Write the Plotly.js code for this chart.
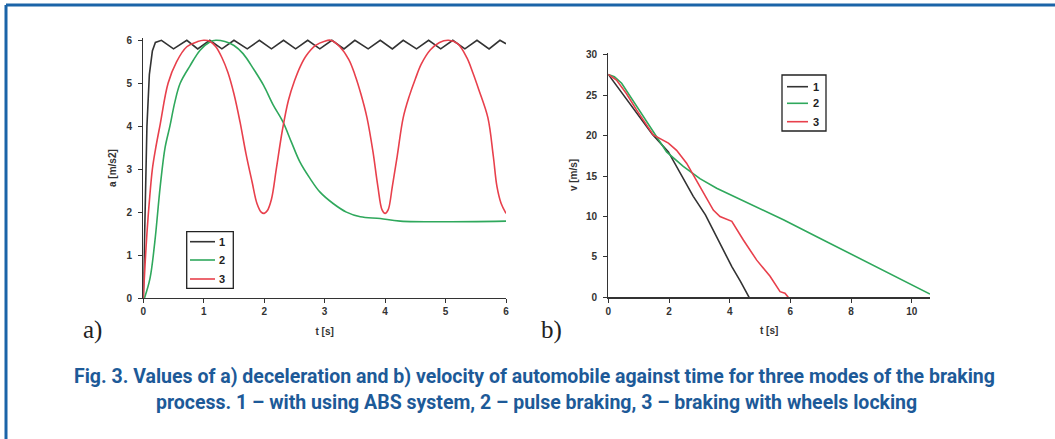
<!DOCTYPE html>
<html>
<head>
<meta charset="utf-8">
<script src="https://cdn.plot.ly/plotly-3.0.1.min.js"></script>
<style>
html,body{margin:0;padding:0;background:#fff;}
#chart{width:1055px;height:439px;}
</style>
</head>
<body>
<div id="chart"></div>
<script>
// ---- Data: (a) deceleration vs time ----
const seriesNames = ["1", "2", "3"];
const aT1 = [0, 0.03, 0.06, 0.1, 0.15, 0.2, 0.3, 0.5, 0.72, 0.9, 1.1, 1.3, 1.5, 1.72, 1.92, 2.12, 2.32, 2.52, 2.72, 2.92, 3.12, 3.32, 3.5, 3.72, 3.92, 4.12, 4.3, 4.52, 4.72, 4.92, 5.12, 5.32, 5.52, 5.72, 5.9, 6.0];
const aA1 = [0, 2.0, 4.0, 5.2, 5.75, 5.95, 6.0, 5.8, 6.0, 5.8, 6.0, 5.8, 6.0, 5.8, 6.0, 5.8, 6.0, 5.8, 6.0, 5.8, 6.0, 5.8, 6.0, 5.8, 6.0, 5.8, 6.0, 5.8, 6.0, 5.8, 6.0, 5.8, 6.0, 5.8, 6.0, 5.92];
const aT2 = [0.02, 0.11, 0.19, 0.28, 0.36, 0.44, 0.52, 0.61, 0.77, 0.94, 1.1, 1.2, 1.35, 1.5, 1.65, 1.82, 1.99, 2.15, 2.31, 2.45, 2.59, 2.76, 2.92, 3.14, 3.36, 3.59, 3.92, 4.25, 6.0];
const aA2 = [0, 0.45, 1.3, 2.6, 3.5, 4.0, 4.55, 5.0, 5.4, 5.77, 5.96, 6.0, 5.97, 5.88, 5.69, 5.34, 4.95, 4.49, 4.1, 3.63, 3.17, 2.78, 2.47, 2.2, 2.0, 1.89, 1.85, 1.79, 1.79];
const aT3 = [0, 0.03, 0.06, 0.1, 0.15, 0.2, 0.28, 0.41, 0.55, 0.72, 0.9, 1.0, 1.1, 1.2, 1.3, 1.4, 1.5, 1.6, 1.7, 1.8, 1.88, 1.95, 2.0, 2.05, 2.12, 2.2, 2.3, 2.4, 2.5, 2.6, 2.7, 2.85, 3.0, 3.1, 3.25, 3.4, 3.5, 3.6, 3.7, 3.8, 3.88, 3.95, 4.0, 4.05, 4.12, 4.2, 4.3, 4.4, 4.5, 4.6, 4.75, 4.9, 5.05, 5.2, 5.35, 5.45, 5.55, 5.7, 5.79, 5.85, 5.92, 6.0];
const aA3 = [0, 0.8, 1.5, 2.25, 3.0, 3.45, 4.05, 5.0, 5.5, 5.85, 5.97, 6.0, 5.98, 5.85, 5.6, 5.25, 4.75, 4.1, 3.35, 2.7, 2.2, 2.0, 1.97, 2.03, 2.3, 3.0, 3.9, 4.6, 5.05, 5.4, 5.65, 5.88, 5.98, 6.0, 5.85, 5.55, 5.2, 4.75, 4.2, 3.4, 2.6, 2.05, 1.97, 2.05, 2.6, 3.3, 4.2, 4.7, 5.1, 5.45, 5.78, 5.95, 6.0, 5.92, 5.6, 5.25, 4.85, 4.2, 3.3, 2.6, 2.2, 1.97];

// ---- Data: (b) velocity vs time ----
const vT1 = [0, 0.5, 0.93, 1.45, 1.98, 2.4, 2.8, 3.2, 3.57, 4.07, 4.35, 4.64];
const vV1 = [27.6, 25.0, 22.8, 20.2, 18.0, 15.2, 12.5, 10.2, 7.5, 3.8, 2.0, 0];
const vT2 = [0, 0.2, 0.44, 0.7, 0.93, 1.37, 1.92, 2.47, 3.02, 3.57, 4.67, 5.77, 6.87, 7.97, 9.07, 10.16, 10.6];
const vV2 = [27.6, 27.3, 26.5, 25.0, 23.6, 21.1, 18.0, 16.2, 14.7, 13.5, 11.6, 9.6, 7.5, 5.4, 3.4, 1.3, 0.4];
const vT3 = [0, 0.27, 0.6, 0.93, 1.48, 1.98, 2.25, 2.58, 3.02, 3.46, 3.68, 4.07, 4.45, 4.89, 5.33, 5.66, 5.82, 5.93];
const vV3 = [27.6, 26.9, 25.2, 23.2, 20.1, 19.1, 18.2, 16.6, 13.7, 10.8, 10.0, 9.4, 7.1, 4.6, 2.6, 0.7, 0.5, 0];

const aXTicks = [0, 1, 2, 3, 4, 5, 6];
const aYTicks = [0, 1, 2, 3, 4, 5, 6];
const bXTicks = [0, 2, 4, 6, 8, 10];
const bYTicks = [0, 5, 10, 15, 20, 25, 30];

const colors = ["#333333", "#2fa85c", "#e8404c"];

const W = 1055, H = 439;
const px = x => x / W;
const py = y => 1 - y / H;

const tickFont = {family: "Liberation Sans, Arial, sans-serif", size: 10, color: "#333", weight: "bold"};
const titleFont = {family: "Liberation Sans, Arial, sans-serif", size: 10, color: "#333", weight: "bold"};

const traces = [
  {x: aT1, y: aA1, name: seriesNames[0], xaxis: "x", yaxis: "y", mode: "lines", line: {color: colors[0], width: 1.6}},
  {x: aT2, y: aA2, name: seriesNames[1], xaxis: "x", yaxis: "y", mode: "lines", line: {color: colors[1], width: 1.6, shape: "spline"}},
  {x: aT3, y: aA3, name: seriesNames[2], xaxis: "x", yaxis: "y", mode: "lines", line: {color: colors[2], width: 1.6, shape: "spline"}},
  {x: vT1, y: vV1, name: seriesNames[0], xaxis: "x2", yaxis: "y2", mode: "lines", line: {color: colors[0], width: 1.6}},
  {x: vT2, y: vV2, name: seriesNames[1], xaxis: "x2", yaxis: "y2", mode: "lines", line: {color: colors[1], width: 1.6}},
  {x: vT3, y: vV3, name: seriesNames[2], xaxis: "x2", yaxis: "y2", mode: "lines", line: {color: colors[2], width: 1.6}}
];

const axCommon = {
  showgrid: false, zeroline: false, showline: true, linecolor: "#333", linewidth: 1.2,
  ticks: "outside", ticklen: 4, tickwidth: 1, tickcolor: "#333", tickfont: tickFont,
  fixedrange: true
};

// plot areas (pixels): a: x 143-506, y 40-298 ; b: x 608-930, y 55-297
const aYTop = 298 - 257.7 * 6.05 / 6;
const bYTop = 297.3 - 242.3 * 30.3 / 30;

const layout = {
  width: W, height: H,
  margin: {l: 0, r: 0, t: 0, b: 0},
  paper_bgcolor: "#fff", plot_bgcolor: "rgba(0,0,0,0)",
  showlegend: false,
  xaxis: Object.assign({}, axCommon, {domain: [px(143.3), px(506)], range: [0, 6], tickvals: aXTicks, ticktext: aXTicks.map(String), anchor: "y",
    title: {text: "t [s]", font: titleFont, standoff: 11}}),
  yaxis: Object.assign({}, axCommon, {domain: [py(298), py(aYTop)], range: [0, 6.05], tickvals: aYTicks, ticktext: aYTicks.map(String), anchor: "x", ticklabelstandoff: 4,
    title: {text: "a [m/s2]", font: titleFont, standoff: 8}}),
  xaxis2: Object.assign({}, axCommon, {domain: [px(608.3), px(930)], range: [0, 10.6], tickvals: bXTicks, ticktext: bXTicks.map(String), anchor: "y2",
    title: {text: "t [s]", font: titleFont, standoff: 11}}),
  yaxis2: Object.assign({}, axCommon, {domain: [py(297.3), py(bYTop)], range: [0, 30.3], tickvals: bYTicks, ticktext: bYTicks.map(String), anchor: "x2", ticklabelstandoff: 4,
    title: {text: "v [m/s]", font: titleFont, standoff: 6}}),
  shapes: [],
  annotations: []
};

// frame
layout.shapes.push({type: "line", xref: "paper", yref: "paper", x0: px(6), x1: 1, y0: py(5), y1: py(5), line: {color: "#1b64a8", width: 3}});
layout.shapes.push({type: "line", xref: "paper", yref: "paper", x0: px(6), x1: px(6), y0: py(5), y1: 0, line: {color: "#1b64a8", width: 3}});

// legends drawn as boxes with samples
function addLegend(box, rows, lineX0, lineX1, labelX) {
  layout.shapes.push({type: "rect", xref: "paper", yref: "paper", x0: px(box[0]), x1: px(box[1]), y0: py(box[3]), y1: py(box[2]),
    line: {color: "#222", width: 1.3}, fillcolor: "#fff"});
  rows.forEach((yy, i) => {
    layout.shapes.push({type: "line", xref: "paper", yref: "paper", x0: px(lineX0), x1: px(lineX1), y0: py(yy), y1: py(yy), line: {color: colors[i], width: 1.6}});
    layout.annotations.push({xref: "paper", yref: "paper", x: px(labelX), y: py(yy), text: seriesNames[i], showarrow: false,
      xanchor: "center", yanchor: "middle", font: {family: "Liberation Sans, Arial, sans-serif", size: 11, color: "#222", weight: "bold"}});
  });
}
addLegend([186.7, 233.3, 231.7, 288.3], [241.7, 260, 279], 190, 215, 222);
addLegend([782, 826, 75, 131], [86.7, 103.3, 121.7], 787, 808, 815.5);

// panel labels
layout.annotations.push({xref: "paper", yref: "paper", x: px(92), y: py(330), text: "a)", showarrow: false, xanchor: "center", yanchor: "middle",
  font: {family: "Liberation Serif, Times New Roman, serif", size: 25, color: "#222"}});
layout.annotations.push({xref: "paper", yref: "paper", x: px(551), y: py(330), text: "b)", showarrow: false, xanchor: "center", yanchor: "middle",
  font: {family: "Liberation Serif, Times New Roman, serif", size: 25, color: "#222"}});

// caption
const captionLines = [
  "Fig. 3. Values of a) deceleration and b) velocity of automobile against time for three modes of the braking",
  "process. 1 – with using ABS system, 2 – pulse braking, 3 – braking with wheels locking"
];
layout.annotations.push({xref: "paper", yref: "paper", x: px(534), y: py(376), text: captionLines[0], showarrow: false, xanchor: "center", yanchor: "middle",
  font: {family: "Roboto, sans-serif", size: 19.5, color: "#1d5a98", weight: "bold"}});
layout.annotations.push({xref: "paper", yref: "paper", x: px(536), y: py(402), text: captionLines[1], showarrow: false, xanchor: "center", yanchor: "middle",
  font: {family: "Roboto, sans-serif", size: 19.5, color: "#1d5a98", weight: "bold"}});

Plotly.newPlot("chart", traces, layout, {staticPlot: true, displayModeBar: false});
</script>
</body>
</html>
